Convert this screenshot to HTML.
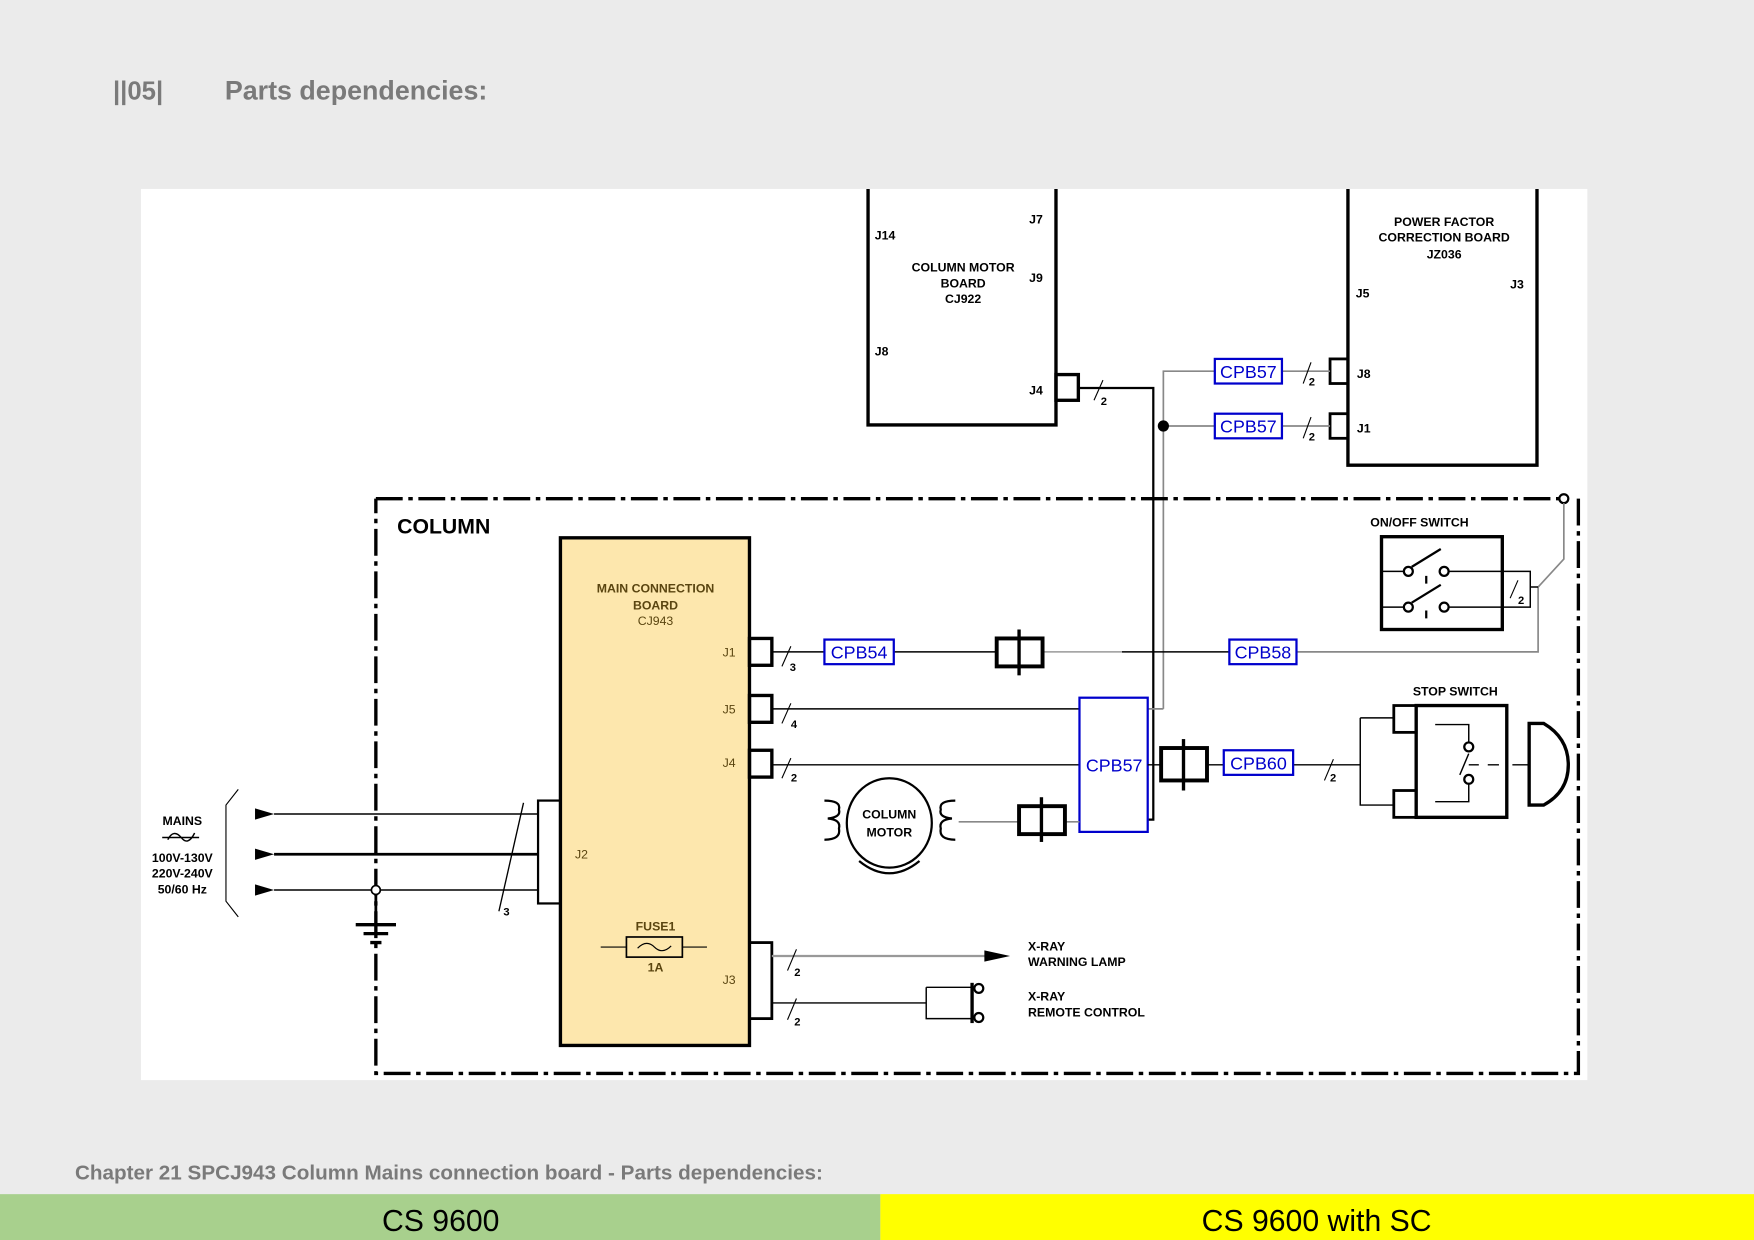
<!DOCTYPE html>
<html><head><meta charset="utf-8"><style>
html,body{margin:0;padding:0;background:#ebebeb;}
svg{display:block;}
text{font-family:"Liberation Sans",Arial,sans-serif;}
</style></head><body>
<svg width="1754" height="1240" viewBox="0 0 1568 1109" preserveAspectRatio="none" xmlns="http://www.w3.org/2000/svg">
<rect x="0" y="0" width="1568" height="1109" fill="#ebebeb"/>
<text x="101" y="89" font-size="23" font-weight="bold" fill="#7a7a7a">||05|</text>
<text x="201" y="89" font-size="24" font-weight="bold" fill="#7a7a7a">Parts dependencies:</text>
<rect x="126" y="169" width="1293" height="797" fill="#fff"/>

<g fill="none" stroke="#000">
<path d="M776 169 V380 H944 V169" stroke-width="3"/>
<rect x="944" y="335" width="20" height="23" stroke-width="3"/>
<path d="M964 347 H1031 V733 H1026" stroke-width="2"/>
<line x1="978" y1="358" x2="986" y2="340" stroke-width="1"/>
<path d="M1205 169 V416 H1374 V169" stroke-width="3"/>
<rect x="1189" y="321" width="16" height="22" stroke-width="2.5"/>
<rect x="1189" y="370" width="16" height="22" stroke-width="2.5"/>
<path d="M1040 634 H1026 M1040 634 V332 H1086 M1040 381 H1086 M1146 332 H1189 M1146 381 H1189" stroke="#888" stroke-width="1.5"/>
<line x1="1165" y1="343" x2="1172" y2="324" stroke-width="1"/>
<line x1="1165" y1="392" x2="1172" y2="373" stroke-width="1"/>
<path d="M336 446 H1398 M1411 446 V960 H336 V446" stroke-width="3" stroke-dasharray="24,5,4,5"/>
<circle cx="1398" cy="446" r="4" fill="#fff" stroke-width="2"/>
<path d="M1398 450 V500 L1375 525 V583 H1159" stroke="#888" stroke-width="1.5"/>
<rect x="1235" y="480" width="108" height="83" stroke-width="3"/>
<path d="M1235 511 H1255 M1295 511 H1343 M1235 543 H1255 M1295 543 H1343 M1316 511 H1343 V543 H1316 M1343 511 H1368 V543 H1343 M1368 525 H1375" stroke-width="1.3"/>
<circle cx="1259" cy="511" r="4" stroke-width="2"/><circle cx="1291" cy="511" r="4" stroke-width="2"/>
<circle cx="1259" cy="543" r="4" stroke-width="2"/><circle cx="1291" cy="543" r="4" stroke-width="2"/>
<path d="M1262 507 L1288 491 M1262 539 L1288 523 M1275 515 V522 M1275 546 V553" stroke-width="2"/>
<line x1="1350" y1="535" x2="1357" y2="519" stroke-width="1"/>
<rect x="501" y="481" width="169" height="454" fill="#fde7ad" stroke-width="3"/>
<rect x="670" y="571" width="20" height="24" stroke-width="3"/>
<rect x="670" y="622" width="20" height="24" stroke-width="3"/>
<rect x="670" y="671" width="20" height="24" stroke-width="3"/>
<rect x="481" y="716" width="20" height="92" stroke-width="2"/>
<rect x="670" y="843" width="20" height="68" stroke-width="2.5"/>
<path d="M690 583 H737 M799 583 H890 M1003 583 H1099" stroke-width="1.3"/>
<path d="M932 583 H1003" stroke="#999" stroke-width="1.3"/>
<rect x="891" y="571" width="41" height="25" stroke-width="3.5"/>
<line x1="911" y1="563" x2="911" y2="604" stroke-width="3"/>
<path d="M690 634 H965 M690 684 H965" stroke-width="1.3"/>
<line x1="699" y1="596" x2="707" y2="578" stroke-width="1"/>
<line x1="699" y1="647" x2="707" y2="629" stroke-width="1"/>
<line x1="699" y1="696" x2="707" y2="678" stroke-width="1"/>
<rect x="965" y="624" width="61" height="120" stroke="#0000cc" stroke-width="2"/>
<path d="M1026 684 H1037 M1080 684 H1094 M1156 684 H1216" stroke-width="1.3"/>
<rect x="1038" y="669" width="41" height="29" stroke-width="3.5"/>
<line x1="1058" y1="661" x2="1058" y2="707" stroke-width="3"/>
<line x1="1184" y1="698" x2="1192" y2="679" stroke-width="1"/>
<path d="M1216 642 V720 H1246 M1216 642 H1246" stroke-width="1.3"/>
<rect x="1246" y="631" width="20" height="24" stroke-width="2.5"/>
<rect x="1246" y="707" width="20" height="24" stroke-width="2.5"/>
<rect x="1266" y="631" width="81" height="100" stroke-width="3"/>
<path d="M1283 648 H1313 V664 M1283 717 H1313 V701 M1313 674 L1305 693 M1313 684 H1322 M1330 684 H1340 M1352 684 H1366" stroke-width="1.3"/>
<circle cx="1313" cy="668" r="4" stroke-width="2"/><circle cx="1313" cy="697" r="4" stroke-width="2"/>
<path d="M1367 647 H1380 Q1402 660 1402 684 Q1402 708 1380 720 H1367 Z" stroke-width="3"/>
<ellipse cx="795" cy="736" rx="38" ry="40" stroke-width="2"/>
<path d="M768 770 Q795 792 822 770" stroke-width="2"/>
<path d="M737 716 Q752 716 750 724 Q752 731 740 732 Q752 733 750 741 Q752 751 737 751" stroke-width="2"/>
<path d="M854 716 Q839 716 841 724 Q839 731 851 732 Q839 733 841 741 Q839 751 854 751" stroke-width="2"/>
<path d="M857 735 H910 M953 735 H965" stroke="#888" stroke-width="1.5"/>
<rect x="911" y="721" width="41" height="25" stroke-width="3.5"/>
<line x1="931" y1="713" x2="931" y2="753" stroke-width="3"/>
<path d="M245 728 H481 M245 796 H481" stroke-width="1.3"/>
<path d="M245 764 H481" stroke-width="2.5"/>
<path d="M336 796 V826" stroke-width="2.5"/>
<circle cx="336" cy="796" r="4" fill="#fff" stroke-width="1.5"/>
<path d="M318 827 H354 M325 835 H347 M331 843 H341" stroke-width="3"/>
<line x1="468" y1="718" x2="446" y2="815" stroke-width="1.2"/>
<path d="M213 706 L202 720 V806 L213 820" stroke-width="1"/>
<path d="M145 749 H178" stroke-width="1.3"/>
<path d="M150 751 Q155 741 162 749 Q168 757 174 745" stroke-width="1.3"/>
<path d="M537 847 H560 M610 847 H632" stroke-width="1"/>
<rect x="560" y="838" width="50" height="18" stroke-width="1.5"/>
<path d="M570 848 Q578 840 585 847 Q592 854 600 846" stroke-width="1"/>
<path d="M690 855 H885" stroke="#999" stroke-width="2"/>
<path d="M690 897 H828 M828 883 V911 H868 M828 883 H868" stroke-width="1.3"/>
<path d="M869 879 V915" stroke-width="3"/>
<circle cx="875" cy="884" r="4" stroke-width="2"/><circle cx="875" cy="910" r="4" stroke-width="2"/>
<line x1="704" y1="868" x2="712" y2="849" stroke-width="1"/>
<line x1="704" y1="912" x2="712" y2="893" stroke-width="1"/>
</g>
<circle cx="1040" cy="381" r="5" fill="#000"/>
<polygon points="228,723 245,728 228,733" fill="#000"/>
<polygon points="228,759 245,764 228,769" fill="#000"/>
<polygon points="228,791 245,796 228,801" fill="#000"/>
<polygon points="880,850 903,855 880,860" fill="#000"/>

<g fill="#fff" stroke="#0000cc" stroke-width="2">
<rect x="1086" y="321" width="60" height="22"/>
<rect x="1086" y="370" width="60" height="22"/>
<rect x="737" y="572" width="62" height="22"/>
<rect x="1099" y="572" width="60" height="22"/>
<rect x="1094" y="671" width="62" height="22"/>
</g>
<g font-size="16" fill="#0000cc" text-anchor="middle">
<text x="1116" y="338">CPB57</text><text x="1116" y="387">CPB57</text>
<text x="768" y="589">CPB54</text><text x="1129" y="589">CPB58</text>
<text x="1125" y="688">CPB60</text><text x="996" y="690">CPB57</text>
</g>

<g font-size="11" font-weight="bold" fill="#000">
<text x="782" y="214">J14</text><text x="920" y="200">J7</text><text x="920" y="252">J9</text>
<text x="782" y="318">J8</text><text x="920" y="353">J4</text>
<text x="1212" y="266">J5</text><text x="1350" y="258">J3</text>
<text x="1213" y="338">J8</text><text x="1213" y="387">J1</text>
<text x="984" y="362" font-size="10">2</text>
<text x="1170" y="345" font-size="10">2</text><text x="1170" y="394" font-size="10">2</text>
<text x="1357" y="540" font-size="10">2</text>
<text x="706" y="600" font-size="10">3</text><text x="707" y="651" font-size="10">4</text>
<text x="707" y="699" font-size="10">2</text><text x="1189" y="699" font-size="10">2</text>
<text x="450" y="819" font-size="10">3</text>
<text x="710" y="873" font-size="10">2</text><text x="710" y="917" font-size="10">2</text>
<text x="1225" y="471">ON/OFF SWITCH</text>
<text x="1263" y="622">STOP SWITCH</text>
<text x="919" y="850">X-RAY</text><text x="919" y="864">WARNING LAMP</text>
<text x="919" y="895">X-RAY</text><text x="919" y="909">REMOTE CONTROL</text>
</g>
<g font-size="11" font-weight="bold" fill="#000" text-anchor="middle">
<text x="861" y="243">COLUMN MOTOR</text><text x="861" y="257">BOARD</text><text x="861" y="271">CJ922</text>
<text x="1291" y="202">POWER FACTOR</text><text x="1291" y="216">CORRECTION BOARD</text><text x="1291" y="231">JZ036</text>
<text x="795" y="732">COLUMN</text><text x="795" y="748">MOTOR</text>
<text x="163" y="738">MAINS</text>
<text x="163" y="771">100V-130V</text><text x="163" y="785">220V-240V</text><text x="163" y="799">50/60 Hz</text>
</g>
<g font-size="11" font-weight="bold" fill="#5a4510" text-anchor="middle">
<text x="586" y="530">MAIN CONNECTION</text><text x="586" y="545">BOARD</text>
<text x="586" y="559" font-weight="normal">CJ943</text>
<text x="586" y="832">FUSE1</text><text x="586" y="869">1A</text>
</g>
<g font-size="11" fill="#5a4510">
<text x="646" y="587">J1</text><text x="646" y="638">J5</text><text x="646" y="686">J4</text>
<text x="514" y="768">J2</text><text x="646" y="880">J3</text>
</g>
<text x="355" y="477" font-size="19" font-weight="bold" fill="#000">COLUMN</text>

<text x="67" y="1055" font-size="18.5" font-weight="bold" fill="#7a7a7a">Chapter 21 SPCJ943 Column Mains connection board - Parts dependencies:</text>
<rect x="0" y="1068" width="787" height="41" fill="#a8d08d"/>
<rect x="787" y="1068" width="781" height="41" fill="#ffff00"/>
<text x="394" y="1101" font-size="27" text-anchor="middle" fill="#000">CS 9600</text>
<text x="1177" y="1101" font-size="27" text-anchor="middle" fill="#000">CS 9600 with SC</text>
</svg>
</body></html>
